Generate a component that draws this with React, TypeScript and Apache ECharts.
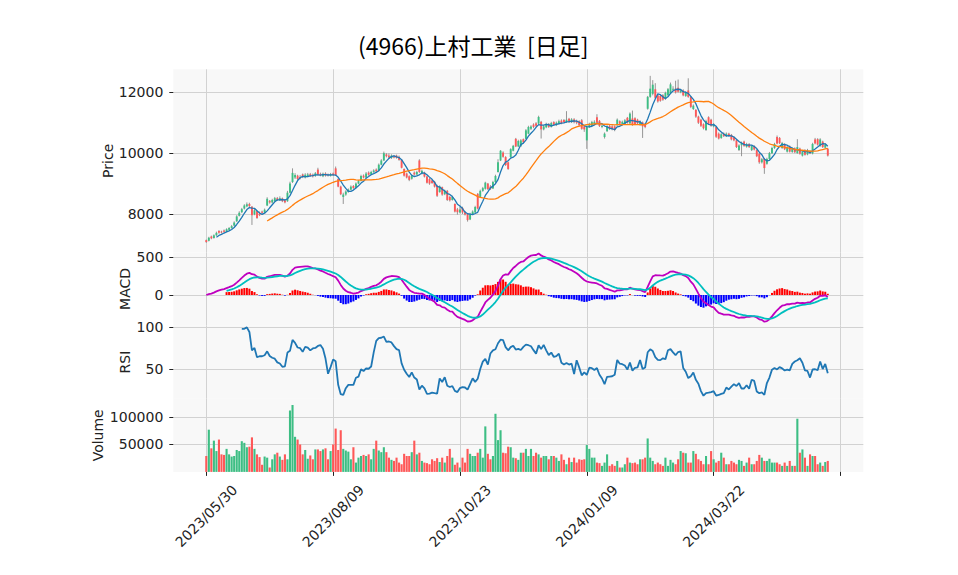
import React, { useEffect, useRef } from "react";
import * as echarts from "echarts";

const tickBars = [0, 50, 100, 150, 200, 250];
const tickLabels = ["2023/05/30", "2023/08/09", "2023/10/23", "2024/01/09", "2024/03/22", ""];
const priceTicks = [8000, 10000, 12000];
const macdTicks = [0, 500];
const rsiTicks = [50, 100];
const volumeTicks = [50000, 100000];

const opens = [
  7140,7120,7260,7210,7300,7440,7420,7460,7420,7480,
  7540,7620,7760,7940,8060,8180,8250,8330,8240,7990,
  8100,8010,8080,8050,8280,8430,8380,8420,8520,8450,
  8510,8450,8420,8700,9050,9200,9260,9220,9300,9200,
  9230,9310,9290,9250,9460,9320,9240,9330,9300,9250,
  9330,9500,9150,8900,8560,8640,8720,8800,8920,8860,
  9000,9090,9260,9200,9360,9300,9380,9460,9420,9620,
  9760,9960,9920,9840,9900,9920,9880,9780,9480,9330,
  9240,9160,9360,9300,9760,9330,9360,9230,9150,9100,
  9060,8930,8720,8880,8650,8760,8560,8460,8330,8150,
  8050,8200,8060,7990,7820,8000,8050,8660,8560,8760,
  8830,9000,8900,8840,9050,9380,9760,10020,9870,9700,
  9870,10080,10470,10220,10230,10460,10470,10640,10800,10940,
  10980,10970,11030,10780,10850,10960,10860,11020,10920,10980,
  11070,11090,11020,11130,11020,11110,11060,11050,11080,10880,
  10420,10860,10900,10950,11180,11060,10860,10530,10720,10900,
  10880,10880,10920,11050,10950,10960,11160,10980,11140,11150,
  11100,10940,11010,10950,11460,11850,11950,12100,11900,11880,
  11900,11780,11900,11960,12080,12120,12150,12000,12060,11880,
  12060,11850,11450,11420,11200,11100,10950,10760,11180,11100,
  10880,10860,10640,10500,10640,10560,10640,10600,10520,10420,
  10100,10260,10380,10210,10300,10100,10230,10100,9980,9700,
  9810,9650,9810,10000,10170,10530,10500,10170,10300,10050,
  10220,10040,10160,10000,10150,9920,10100,9960,10070,9990,
  10450,10460,10240,10380,10180,10140,
];

const highs = [
  7160,7250,7290,7330,7420,7470,7450,7490,7530,7570,
  7640,7760,7960,8090,8200,8320,8380,8370,8260,8170,
  8120,8080,8110,8180,8550,8460,8500,8560,8560,8580,
  8540,8480,8760,9060,9500,9340,9290,9280,9330,9340,
  9350,9350,9330,9380,9520,9360,9360,9370,9330,9350,
  9360,9560,9180,8930,8700,8780,8840,8940,8950,9040,
  9120,9290,9300,9380,9400,9420,9470,9500,9660,9800,
  10050,10000,9990,9960,9940,9950,9920,9800,9500,9360,
  9270,9300,9400,9420,9800,9460,9390,9260,9180,9130,
  9090,8960,8940,8900,8800,8790,8600,8600,8350,8200,
  8250,8240,8100,8010,8040,8120,8270,8690,8800,8890,
  9060,9020,8950,9090,9290,9800,10100,10060,9900,9720,
  10160,10270,10500,10440,10460,10480,10790,10900,10920,10980,
  11020,11230,11060,10920,11000,10990,11030,11050,11040,11100,
  11110,11120,11380,11160,11150,11150,11100,11080,11120,10920,
  10900,11000,11060,11080,11280,11090,10940,10680,10920,10930,
  10920,10910,11140,11080,11070,11120,11190,11340,11400,11180,
  11130,11080,11040,10990,11880,12540,12400,12300,11940,11920,
  11940,12020,12140,12320,12200,12380,12420,12100,12100,12040,
  12460,11880,11600,11450,11230,11130,10980,11100,11210,11130,
  10990,10890,10680,10660,10680,10680,10670,10630,10550,10450,
  10290,10380,10410,10340,10330,10260,10260,10130,10000,9840,
  9840,9850,10040,10210,10340,10580,10530,10370,10330,10240,
  10250,10180,10190,10460,10180,10090,10130,10140,10100,10340,
  10500,10490,10490,10410,10320,10170,
];

const lows = [
  7050,7100,7170,7190,7280,7350,7360,7390,7400,7460,
  7520,7600,7740,7920,8030,8150,8220,8230,7640,7960,
  7840,7930,8000,8030,8260,8340,8350,8400,8430,8430,
  8390,8350,8400,8680,9020,9150,9100,9140,9180,9170,
  9210,9220,9200,9220,9260,9240,9210,9230,9230,9230,
  9250,9250,8880,8620,8330,8600,8700,8780,8830,8840,
  8980,9070,9170,9180,9260,9280,9350,9370,9400,9600,
  9740,9860,9820,9810,9830,9820,9750,9500,9230,9170,
  9080,9130,9260,9270,9350,9300,9200,9000,8960,8990,
  8870,8560,8700,8600,8620,8430,8410,8440,8050,7980,
  8020,8000,7950,7750,7800,7980,8030,8150,8540,8730,
  8800,8790,8790,8820,9020,9360,9740,9850,9580,9450,
  9850,10060,10200,10200,10200,10320,10450,10620,10760,10820,
  10870,10950,10480,10750,10820,10830,10840,10900,10890,10950,
  10950,10990,10990,10990,10990,10980,10950,10880,10770,10700,
  10140,10830,10880,10920,10970,10860,10820,10480,10700,10760,
  10750,10720,10900,10940,10920,10940,10970,10960,10900,10920,
  10940,10900,10500,10820,11430,11820,11900,11780,11660,11690,
  11720,11750,11870,11940,12040,11960,11990,11970,11870,11850,
  11820,11480,11420,11160,10960,10860,10780,10730,10930,10870,
  10850,10500,10450,10470,10530,10530,10540,10420,10390,10170,
  10070,9900,10210,10180,10170,10070,10090,9870,9650,9660,
  9320,9620,9780,9970,10140,10290,10300,10140,10100,10020,
  10020,10010,10000,9980,9950,9890,9920,9930,9970,9960,
  10290,10250,10210,10170,10150,9890,
];

const closes = [
  7080,7220,7200,7300,7380,7380,7390,7420,7500,7540,
  7600,7720,7920,8040,8160,8280,8320,8260,7960,8120,
  7870,7960,8040,8140,8500,8380,8460,8520,8460,8520,
  8420,8380,8700,9000,9350,9280,9150,9180,9230,9290,
  9300,9250,9240,9340,9290,9270,9320,9260,9270,9310,
  9280,9280,8900,8650,8640,8740,8800,8900,8850,9000,
  9080,9250,9200,9330,9290,9380,9430,9400,9620,9760,
  10000,9900,9860,9920,9860,9850,9780,9520,9260,9200,
  9120,9260,9300,9380,9380,9420,9230,9030,9000,9020,
  8900,8600,8900,8640,8760,8460,8450,8560,8080,8060,
  8150,8050,7980,7800,7990,8080,8230,8180,8760,8850,
  9030,8820,8830,9050,9250,9700,10080,9880,9610,9480,
  10130,10240,10220,10400,10420,10360,10750,10860,10880,10860,
  10900,11190,10780,10880,10960,10860,10990,10930,11000,11050,
  10980,11020,11100,11030,11110,11020,11000,10920,10800,10780,
  10860,10960,11020,11030,11000,10890,10900,10640,10880,10800,
  10790,10760,11100,10970,11030,11080,11000,11300,10920,10950,
  10980,11030,10880,10860,11850,12120,12250,11820,11700,11720,
  11760,11980,12100,12260,12120,12000,12020,12060,11900,12000,
  11850,11520,11560,11200,11000,10900,10820,11060,10960,10900,
  10950,10540,10480,10620,10560,10640,10580,10450,10420,10200,
  10250,10340,10240,10300,10200,10230,10120,9900,9700,9800,
  9510,9810,10000,10170,10300,10320,10330,10330,10130,10200,
  10050,10140,10030,10200,9980,10050,9950,10100,10000,10300,
  10320,10280,10450,10200,10280,9920,
];

const volumes = [
  29000,77000,43000,57000,38000,59000,32000,31000,42000,32000,
  28000,29000,40000,38000,56000,53000,45000,46000,63000,42000,
  32000,27000,13000,28000,26000,8000,23000,32000,35000,28000,
  22000,32000,23000,112000,122000,64000,59000,50000,32000,40000,
  24000,30000,23000,41000,41000,38000,41000,43000,23000,38000,
  50000,79000,40000,76000,42000,39000,37000,23000,45000,17000,
  26000,29000,31000,29000,32000,23000,42000,57000,39000,36000,
  45000,36000,26000,22000,20000,26000,17000,14000,33000,29000,
  29000,36000,57000,32000,35000,20000,17000,16000,14000,23000,
  20000,25000,18000,26000,17000,29000,42000,26000,13000,17000,
  8000,26000,17000,42000,33000,29000,29000,35000,42000,26000,
  83000,33000,23000,29000,106000,58000,76000,35000,34000,46000,
  45000,26000,25000,22000,35000,35000,42000,29000,42000,29000,
  35000,32000,26000,29000,29000,23000,29000,29000,26000,20000,
  32000,22000,14000,26000,18000,26000,17000,23000,22000,23000,
  49000,42000,26000,26000,17000,16000,11000,17000,32000,11000,
  14000,11000,20000,8000,8000,14000,26000,17000,16000,17000,
  14000,23000,23000,26000,61000,26000,20000,14000,17000,14000,
  11000,26000,11000,22000,17000,14000,23000,38000,35000,34000,
  17000,17000,38000,33000,23000,20000,14000,29000,14000,38000,
  23000,17000,20000,35000,26000,14000,14000,20000,17000,14000,
  22000,20000,11000,17000,26000,14000,14000,20000,31000,26000,
  20000,20000,24000,17000,17000,17000,14000,11000,17000,11000,
  20000,11000,11000,97000,35000,41000,26000,11000,32000,29000,
  29000,14000,17000,11000,18000,20000,
];

const PAD = 13;
const SLOTS = 273;
const UP = "#3dbe84";
const DOWN = "#fe5858";
const GRIDC = "#d2d2d2";
const TXT = "#222222";
const FONT = "DejaVu Sans";

function sma(arr: number[], n: number) {
  return arr.map((_, i) => {
    if (i < n - 1) return null;
    let s = 0;
    for (let j = i - n + 1; j <= i; j++) s += arr[j];
    return s / n;
  });
}
function ema(arr: number[], n: number) {
  const a = 2 / (n + 1);
  const out: number[] = [];
  arr.forEach((v, i) => out.push(i === 0 ? v : a * v + (1 - a) * out[i - 1]));
  return out;
}
function rsi(arr: number[], n: number) {
  const out: (number | null)[] = arr.map(() => null);
  for (let i = n; i < arr.length; i++) {
    let g = 0, l = 0;
    for (let j = i - n + 1; j <= i; j++) {
      const d = arr[j] - arr[j - 1];
      if (d > 0) g += d; else l -= d;
    }
    out[i] = l === 0 ? 100 : 100 - 100 / (1 + g / l);
  }
  return out;
}

export default function App() {
  const ref = useRef<HTMLDivElement>(null);
  useEffect(() => {
    if (!ref.current) return;
    const chart = echarts.init(ref.current, undefined, { renderer: "svg" });
    const n = closes.length;
    const cats: string[] = [];
    for (let k = 0; k < SLOTS; k++) cats.push(String(k - PAD));
    const tickSet = new Set(tickBars.map((b) => b + PAD));
    const labelOf = (k: number) => {
      const idx = tickBars.indexOf(k - PAD);
      return idx >= 0 ? tickLabels[idx] : "";
    };

    const ma5 = sma(closes, 5);
    const ma25 = sma(closes, 25);
    const e12 = ema(closes, 12);
    const e26 = ema(closes, 26);
    const macd = closes.map((_, i) => e12[i] - e26[i]);
    const sig = ema(macd, 9);
    const r = rsi(closes, 14);

    const line = (arr: (number | null)[], start = 0) =>
      arr.map((v, i) => (v == null || i < start ? null : [i + PAD, v])).filter((x) => x) as number[][];

    const candleData = closes.map((c, i) => [i + PAD, opens[i], c, lows[i], highs[i]]);
    const volData = volumes.map((v, i) => ({
      value: [i + PAD, v],
      itemStyle: { color: closes[i] >= opens[i] ? UP : DOWN },
    }));
    const histData: any[] = [];
    for (let i = 8; i < n; i++) {
      const h = macd[i] - sig[i];
      histData.push({ value: [i + PAD, h], itemStyle: { color: h >= 0 ? "#ff0000" : "#0000ff" } });
    }

    const gridTops = [69.3, 252.3, 325.5, 398.7];
    const gridHeights = [183, 73.2, 73.2, 73.2];
    const grids = gridTops.map((t, i) => ({
      left: 173.3,
      width: 690,
      top: t,
      height: gridHeights[i],
      show: true,
      backgroundColor: "#f8f8f8",
      borderWidth: 0,
    }));

    const xAxes = grids.map((_, i) => ({
      type: "category",
      gridIndex: i,
      data: cats,
      boundaryGap: false,
      axisLine: { show: false },
      axisTick: {
        show: i === 3,
        interval: (k: number) => tickSet.has(k),
        length: 4,
        lineStyle: { color: TXT },
      },
      axisLabel: {
        show: i === 3,
        interval: (k: number) => tickSet.has(k),
        formatter: (_v: string, k: number) => labelOf(k),
        rotate: 45,
        align: "center",
        verticalAlign: "middle",
        margin: 44,
        fontSize: 14,
        fontFamily: FONT,
        color: TXT,
      },
      splitLine: {
        show: true,
        interval: (k: number) => tickSet.has(k),
        lineStyle: { color: GRIDC, width: 1 },
      },
    }));

    const yAxis = (i: number, min: number, max: number, ticks: number[], name: string, gap: number) => ({
      type: "value",
      gridIndex: i,
      min,
      max,
      name,
      nameLocation: "middle",
      nameGap: gap,
      nameRotate: 90,
      nameMoveOverlap: false,
      nameTextStyle: { fontSize: 14, fontFamily: FONT, color: TXT },
      axisLine: { show: false },
      axisTick: { show: true, length: 4, lineStyle: { color: TXT }, customValues: ticks },
      axisLabel: {
        fontSize: 14,
        fontFamily: FONT,
        color: TXT,
        margin: 10,
        customValues: ticks,
        formatter: (v: number) => String(Math.round(v)),
      },
      splitLine: { show: true, lineStyle: { color: GRIDC, width: 1 } },
    });

    chart.setOption({
      animation: false,
      title: {
        text: "(4966)上村工業  [日足]",
        left: 353,
        top: 28,
        textStyle: { fontSize: 23, fontWeight: "normal", fontFamily: "Noto Sans CJK JP", color: "#000" },
      },
      grid: grids,
      xAxis: xAxes,
      yAxis: [
        yAxis(0, 6741, 12756, priceTicks, "Price", 58),
        yAxis(1, -404, 566, macdTicks, "MACD", 41),
        yAxis(2, 14.4, 102.2, rsiTicks, "RSI", 41),
        yAxis(3, 0, 133500, volumeTicks, "Volume", 68),
      ],
      series: [
        {
          type: "custom",
          xAxisIndex: 0,
          yAxisIndex: 0,
          encode: { x: 0, y: [1, 2, 3, 4] },
          data: candleData,
          renderItem: (_p: any, api: any) => {
            const x = api.value(0);
            const o = api.value(1), c = api.value(2), l = api.value(3), h = api.value(4);
            const pO = api.coord([x, o]);
            const pC = api.coord([x, c]);
            const pL = api.coord([x, l]);
            const pH = api.coord([x, h]);
            const w = 1.9;
            const top = Math.min(pO[1], pC[1]);
            const ht = Math.max(Math.abs(pO[1] - pC[1]), 0.8);
            return {
              type: "group",
              children: [
                { type: "line", shape: { x1: pH[0], y1: pH[1], x2: pL[0], y2: pL[1] }, style: { stroke: "#8a8a8a", lineWidth: 0.9 } },
                { type: "rect", shape: { x: pO[0] - w / 2, y: top, width: w, height: ht }, style: { fill: c >= o ? UP : DOWN } },
              ],
            };
          },
        },
        { type: "line", xAxisIndex: 0, yAxisIndex: 0, data: line(ma5), showSymbol: false, lineStyle: { color: "#1f77b4", width: 1.3 } },
        { type: "line", xAxisIndex: 0, yAxisIndex: 0, data: line(ma25), showSymbol: false, lineStyle: { color: "#ff7f0e", width: 1.3 } },
        { type: "bar", xAxisIndex: 1, yAxisIndex: 1, data: histData, barWidth: 2 },
        { type: "line", xAxisIndex: 1, yAxisIndex: 1, data: line(macd), showSymbol: false, lineStyle: { color: "#bf00bf", width: 1.8 } },
        { type: "line", xAxisIndex: 1, yAxisIndex: 1, data: line(sig, 8), showSymbol: false, lineStyle: { color: "#00bfbf", width: 1.8 } },
        { type: "line", xAxisIndex: 2, yAxisIndex: 2, data: line(r), showSymbol: false, lineStyle: { color: "#1f77b4", width: 1.8 } },
        { type: "bar", xAxisIndex: 3, yAxisIndex: 3, data: volData, barWidth: 2.1 },
      ],
    });
    return () => chart.dispose();
  }, []);
  return <div ref={ref} style={{ position: "fixed", left: 0, top: 0, width: 958, height: 575, background: "#fff" }} />;
}
